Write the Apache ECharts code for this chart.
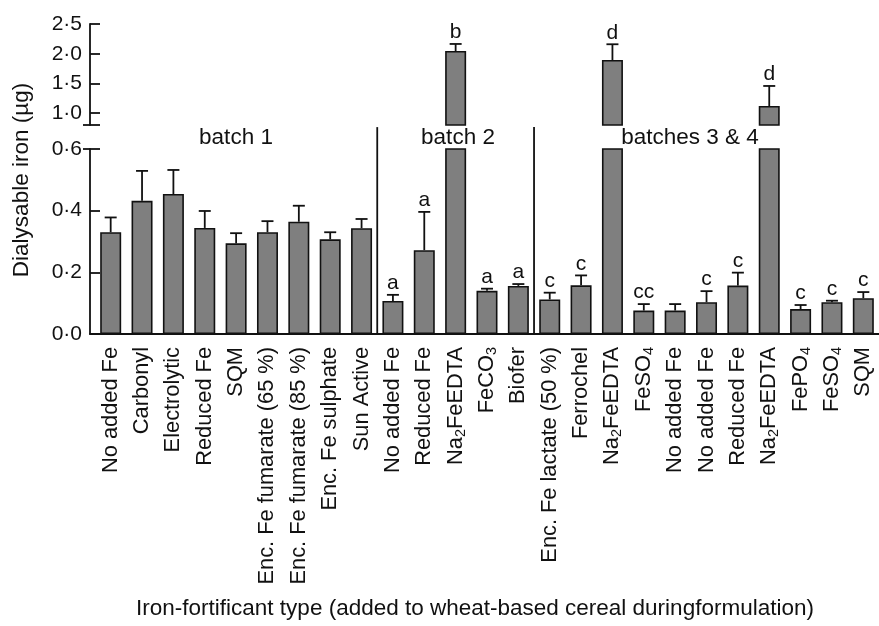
<!DOCTYPE html>
<html>
<head>
<meta charset="utf-8">
<script src="https://cdn.jsdelivr.net/npm/echarts@6/dist/echarts.min.js"></script>
<style>
html,body{margin:0;padding:0;background:#fff;}
#chart{width:879px;height:626px;}
</style>
</head>
<body>
<div id="chart"></div>
<script>
// ---- data ----
const categories = [
  'No added Fe','Carbonyl','Electrolytic','Reduced Fe','SQM',
  'Enc. Fe fumarate (65 %)','Enc. Fe fumarate (85 %)','Enc. Fe sulphate','Sun Active',
  'No added Fe','Reduced Fe','Na2FeEDTA','FeCO3','Biofer',
  'Enc. Fe lactate (50 %)','Ferrochel','Na2FeEDTA','FeSO4','No added Fe','No added Fe',
  'Reduced Fe','Na2FeEDTA','FePO4','FeSO4','SQM'
];
const values = [
  0.330, 0.432, 0.454, 0.344, 0.294, 0.330, 0.364, 0.307, 0.343,
  0.107, 0.272, 2.046, 0.140, 0.156,
  0.112, 0.158, 1.894, 0.076, 0.076, 0.103, 0.157, 1.120, 0.081, 0.103, 0.116
];
const errors = [
  0.048, 0.097, 0.078, 0.055, 0.033, 0.036, 0.052, 0.023, 0.030,
  0.020, 0.124, 0.118, 0.007, 0.006,
  0.022, 0.032, 0.265, 0.021, 0.021, 0.036, 0.042, 0.337, 0.013, 0.005, 0.020
];
const letters = [
  '', '', '', '', '', '', '', '', '',
  'a', 'a', 'b', 'a', 'a',
  'c', 'c', 'd', 'cc', '', 'c', 'c', 'd', 'c', 'c', 'c'
];
const separatorsAfter = [8, 13];
const batchLabels = ['batch 1', 'batch 2', 'batches 3 & 4'];
const upperTicks = [1.0, 1.5, 2.0, 2.5];
const breakLow = 0.8;     // bottom of upper axis segment
const lowerMax = 0.6;     // top of lower axis segment

// ---- chart ----
const FONT = 'Liberation Sans, Arial, Helvetica, sans-serif';
const fmt = v => v.toFixed(1).replace('.', '\u00B7');

const upperErr = [], lowerErr = [];
values.forEach((v, i) => {
  const row = [i, v, errors[i]];
  if (v > lowerMax) upperErr.push(row); else lowerErr.push(row);
});

function errRender(params, api) {
  const i = api.value(0), v = api.value(1), e = api.value(2);
  const base = api.coord([i, v]);
  const top = api.coord([i, v + e]);
  const cap = 6;
  const children = [
    {type: 'line', shape: {x1: base[0], y1: base[1], x2: top[0], y2: top[1]}, style: {stroke: '#111', lineWidth: 1.8}},
    {type: 'line', shape: {x1: top[0] - cap, y1: top[1], x2: top[0] + cap, y2: top[1]}, style: {stroke: '#111', lineWidth: 1.8}}
  ];
  const L = letters[i];
  if (L) {
    children.push({type: 'text', x: top[0], y: top[1] - 1,
      style: {text: L, fill: '#111', fontSize: 21, fontFamily: FONT, align: 'center', verticalAlign: 'bottom'}});
  }
  return {type: 'group', children};
}

function sepRender(params, api) {
  const i = api.value(0);
  const p0 = api.coord([i, 0]);
  const p1 = api.coord([i, 0.671]);
  const half = api.size([1, 0])[0] / 2;
  return {type: 'line', shape: {x1: p0[0] + half, y1: p0[1], x2: p0[0] + half, y2: p1[1]},
    style: {stroke: '#111', lineWidth: 1.8}};
}

const chart = echarts.init(document.getElementById('chart'), null, {renderer: 'canvas'});
const blackLine = {lineStyle: {color: '#111', width: 1.8}};
const TXT = {fill: '#111', fontSize: 22.5, fontFamily: FONT, align: 'center', verticalAlign: 'middle'};

chart.setOption({
  animation: false,
  backgroundColor: '#fff',
  textStyle: {fontFamily: FONT},
  grid: [
    {left: 95, width: 788, top: 24, height: 101},
    {left: 95, width: 788, top: 149, height: 185},
    {left: 90, width: 789, top: 149, height: 185}
  ],
  xAxis: [
    {type: 'category', gridIndex: 0, data: categories, show: false},
    {type: 'category', gridIndex: 1, data: categories,
      axisLine: {show: false}, axisTick: {show: false},
      axisLabel: {interval: 0, rotate: 90, margin: 13, color: '#111', fontSize: 21.8, fontFamily: FONT,
        lineHeight: 25,
        formatter: v => v.replace(/([A-Za-z])(\d)/g, '$1{sub|$2}'),
        rich: {sub: {fontSize: 14.5, lineHeight: 14, verticalAlign: 'bottom', color: '#111', fontFamily: FONT}}}},
    {type: 'value', gridIndex: 2, min: 0, max: 1, axisLine: {show: true, ...blackLine},
      axisTick: {show: false}, axisLabel: {show: false}, splitLine: {show: false}}
  ],
  yAxis: [
    {type: 'value', gridIndex: 0, min: breakLow, max: 2.5, offset: 5,
      axisLine: {show: true, ...blackLine},
      axisTick: {show: true, inside: true, length: 10, customValues: [breakLow].concat(upperTicks), ...blackLine},
      axisLabel: {customValues: upperTicks, formatter: fmt, color: '#111', fontSize: 21, fontFamily: FONT, margin: 8},
      splitLine: {show: false}},
    {type: 'value', gridIndex: 0, min: breakLow, max: 2.5, offset: 5, position: 'left',
      axisLine: {show: false},
      axisTick: {show: true, inside: false, length: 7, customValues: [breakLow], ...blackLine},
      axisLabel: {show: false}, splitLine: {show: false}},
    {type: 'value', gridIndex: 1, min: 0, max: lowerMax, interval: 0.2, offset: 5,
      axisLine: {show: true, ...blackLine},
      axisTick: {show: true, inside: true, length: 10, ...blackLine},
      axisLabel: {formatter: fmt, color: '#111', fontSize: 21, fontFamily: FONT, margin: 8},
      splitLine: {show: false}},
    {type: 'value', gridIndex: 1, min: 0, max: lowerMax, offset: 5, position: 'left',
      axisLine: {show: false},
      axisTick: {show: true, inside: false, length: 7, customValues: [lowerMax], ...blackLine},
      axisLabel: {show: false}, splitLine: {show: false}},
    {type: 'value', gridIndex: 2, show: false, min: 0, max: 1}
  ],
  series: [
    {type: 'bar', xAxisIndex: 0, yAxisIndex: 0, barWidth: 21, clip: true,
      data: values.map(v => v > lowerMax ? v : '-'),
      itemStyle: {color: '#7f7f7f', borderColor: '#111', borderWidth: 1.6}},
    {type: 'bar', xAxisIndex: 1, yAxisIndex: 2, barWidth: 21, clip: true,
      data: values,
      itemStyle: {color: '#7f7f7f', borderColor: '#111', borderWidth: 1.6}},
    {type: 'custom', xAxisIndex: 0, yAxisIndex: 0, data: upperErr, renderItem: errRender, clip: false, z: 5},
    {type: 'custom', xAxisIndex: 1, yAxisIndex: 2, data: lowerErr, renderItem: errRender, clip: false, z: 5},
    {type: 'custom', xAxisIndex: 1, yAxisIndex: 2, data: separatorsAfter.map(i => [i]), renderItem: sepRender, clip: false, z: 5}
  ],
  graphic: [
    {type: 'text', x: 236, y: 138, style: {text: batchLabels[0], ...TXT}},
    {type: 'text', x: 458, y: 138, style: {text: batchLabels[1], ...TXT}},
    {type: 'text', x: 690, y: 138, style: {text: batchLabels[2], ...TXT}},
    {type: 'text', x: 22, y: 180, rotation: Math.PI / 2,
      style: {text: 'Dialysable iron (\u00B5g)', ...TXT}},
    {type: 'text', x: 475, y: 609,
      style: {text: 'Iron-fortificant type (added to wheat-based cereal duringformulation)', ...TXT}}
  ]
});
</script>
</body>
</html>
